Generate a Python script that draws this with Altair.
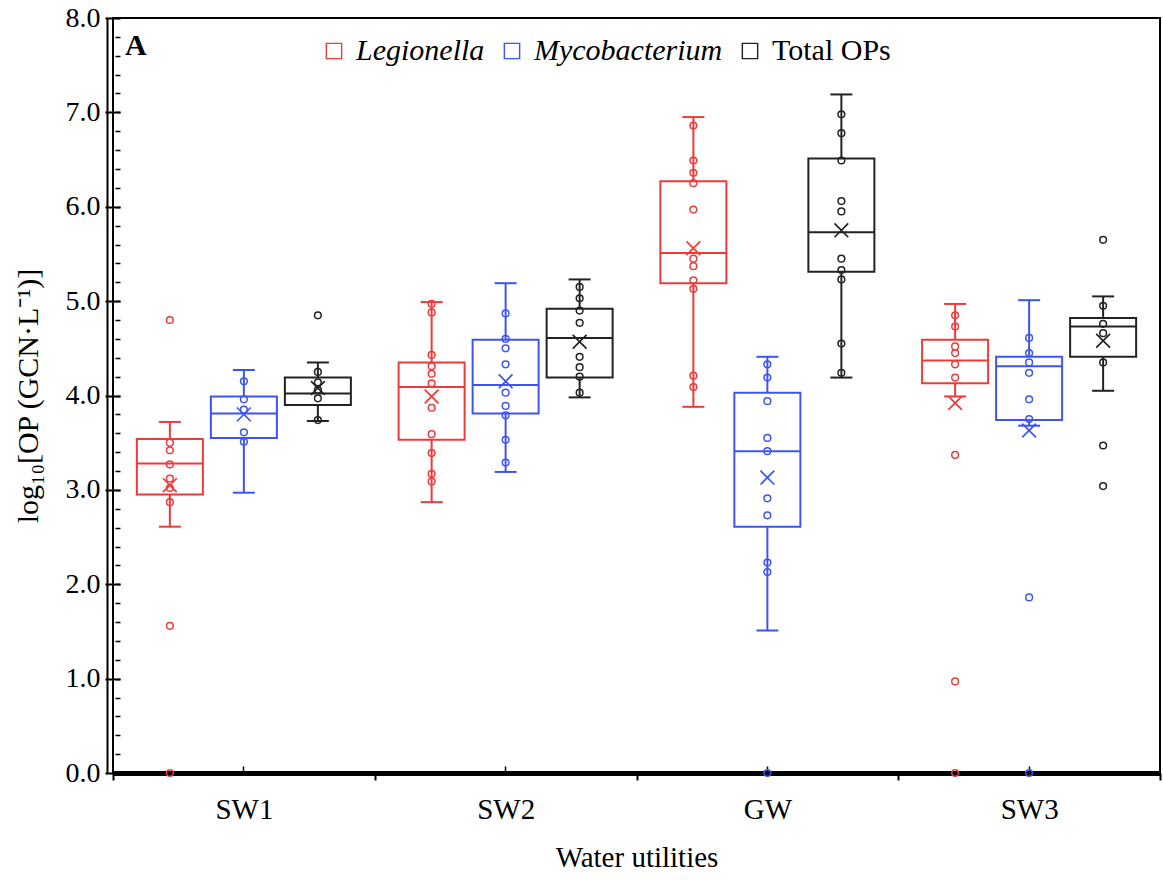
import altair as alt
import pandas as pd

SERIF = "Liberation Serif"

utilities = ["SW1", "SW2", "GW", "SW3"]
series = ["Legionella", "Mycobacterium", "Total OPs"]
colors = ["#f03a3a", "#3d55f0", "#222222"]

# Box statistics (order: SW1 L/M/T, SW2 L/M/T, GW L/M/T, SW3 L/M/T)
whisker_low = [2.61, 2.97, 3.73, 2.87, 3.19, 3.98, 3.88, 1.51, 4.19, 3.99, 3.68, 4.05]
q1 = [2.95, 3.55, 3.90, 3.53, 3.81, 4.19, 5.19, 2.61, 5.31, 4.13, 3.74, 4.41]
median = [3.28, 3.81, 4.02, 4.09, 4.11, 4.61, 5.51, 3.41, 5.73, 4.37, 4.31, 4.73]
q3 = [3.54, 3.99, 4.19, 4.35, 4.59, 4.92, 6.27, 4.03, 6.51, 4.59, 4.41, 4.82]
whisker_high = [3.72, 4.27, 4.35, 4.99, 5.19, 5.23, 6.95, 4.41, 7.19, 4.97, 5.01, 5.05]
mean = [3.05, 3.80, 4.08, 3.99, 4.15, 4.57, 5.56, 3.13, 5.75, 3.92, 3.63, 4.58]

# Individual sample points
sw1_leg = [4.80, 3.50, 3.42, 3.27, 3.12, 3.02, 2.87, 1.56, 0.0]
sw1_myc = [4.15, 3.96, 3.85, 3.61, 3.51]
sw1_tot = [4.85, 4.25, 4.14, 4.06, 3.97, 3.74]
sw2_leg = [4.97, 4.88, 4.43, 4.31, 4.23, 4.13, 3.87, 3.59, 3.39, 3.17, 3.09]
sw2_myc = [4.87, 4.60, 4.50, 4.33, 4.03, 3.89, 3.79, 3.53, 3.29]
sw2_tot = [5.15, 5.03, 4.90, 4.77, 4.41, 4.30, 4.20, 4.03]
gw_leg = [6.86, 6.49, 6.36, 6.25, 5.97, 5.45, 5.37, 5.22, 5.13, 4.21, 4.09]
gw_myc = [4.33, 4.19, 3.94, 3.55, 3.41, 2.91, 2.73, 2.23, 2.13, 0.0]
gw_tot = [6.98, 6.78, 6.49, 6.06, 5.95, 5.45, 5.33, 5.23, 4.55, 4.24]
sw3_leg = [4.85, 4.73, 4.52, 4.45, 4.33, 4.19, 3.37, 0.97, 0.0]
sw3_myc = [4.61, 4.45, 4.35, 4.24, 3.96, 3.75, 1.86, 0.0]
sw3_tot = [5.65, 4.95, 4.76, 4.66, 4.35, 3.47, 3.04]

major_ticks = [0, 1, 2, 3, 4, 5, 6, 7, 8]
minor_ticks = [round(i * 0.2, 1) for i in range(41)]

stat_util = [u for u in utilities for _ in series]
stat_series = [s for _ in utilities for s in series]
stats = pd.DataFrame({
    "utility": stat_util, "series": stat_series,
    "whisker_low": whisker_low, "q1": q1, "median": median,
    "q3": q3, "whisker_high": whisker_high, "mean": mean,
})

point_groups = [
    ("SW1", "Legionella", sw1_leg), ("SW1", "Mycobacterium", sw1_myc), ("SW1", "Total OPs", sw1_tot),
    ("SW2", "Legionella", sw2_leg), ("SW2", "Mycobacterium", sw2_myc), ("SW2", "Total OPs", sw2_tot),
    ("GW", "Legionella", gw_leg), ("GW", "Mycobacterium", gw_myc), ("GW", "Total OPs", gw_tot),
    ("SW3", "Legionella", sw3_leg), ("SW3", "Mycobacterium", sw3_myc), ("SW3", "Total OPs", sw3_tot),
]
pts = pd.DataFrame(
    [{"utility": u, "series": s, "value": v} for u, s, vals in point_groups for v in vals]
)

xscale = alt.Scale(domain=utilities, paddingInner=0, paddingOuter=0)
x_axis_main = alt.Axis(
    orient="bottom", tickBand="extent", tickSize=7, tickWidth=2, tickColor="black",
    domainColor="black", domainWidth=5, labelFont=SERIF, labelFontSize=29,
    labelColor="black", labelPadding=15, labelAngle=0, titleFont=SERIF,
    titleFontSize=29, titleFontWeight="normal", titleColor="black", titlePadding=19,
    grid=False,
)
x_axis_center = alt.Axis(orient="bottom", offset=-7, tickSize=6, tickWidth=1.5,
                         tickColor="black", labels=False, domain=False, grid=False)
x_main = alt.X("utility:N", sort=utilities, title="Water utilities", scale=xscale, axis=x_axis_main)
x_center = alt.X("utility:N", sort=utilities, title=None, scale=xscale, axis=x_axis_center)
x_plain = alt.X("utility:N", sort=utilities, scale=xscale, axis=None)
xo = alt.XOffset("series:N", sort=series,
                 scale=alt.Scale(domain=series, paddingInner=0.108, paddingOuter=0.3225))
yscale = alt.Scale(domain=[0, 8], nice=False, zero=False)

# hollow square frame as legend symbol
frame_path = "M -1 -1 H 1 V 1 H -1 Z M -0.83 -0.83 V 0.83 H 0.83 V -0.83 Z"
legend = alt.Legend(
    orient="none", legendX=206, legendY=18, direction="horizontal", title=None,
    symbolType=frame_path, symbolSize=280, symbolStrokeWidth=0,
    labelFont=SERIF, labelFontSize=30, labelColor="black",
    labelFontStyle=alt.ExprRef("datum.label == 'Total OPs' ? 'normal' : 'italic'"),
    columnPadding=12, labelOffset=7, labelLimit=400,
)
stroke = alt.Stroke("series:N", sort=series, scale=alt.Scale(domain=series, range=colors),
                    legend=legend)
fill = alt.Fill("series:N", sort=series, scale=alt.Scale(domain=series, range=colors),
                legend=None)

axis_main = alt.Axis(
    orient="left", offset=6, values=major_ticks, format=".1f", tickSize=2, tickWidth=2,
    tickColor="black", domainColor="black", domainWidth=2, labelFont=SERIF,
    labelFontSize=28, labelColor="black", labelPadding=5, titleFont=SERIF,
    titleFontSize=30, titleFontWeight="normal", titleColor="black", titlePadding=22,
    grid=False,
)
axis_major_in = alt.Axis(orient="left", offset=-7, values=major_ticks, tickSize=14,
                         tickWidth=2, tickColor="black", labels=False, domain=False, grid=False)
axis_minor_in = alt.Axis(orient="left", offset=-7, values=minor_ticks, tickSize=5,
                         tickWidth=1.5, tickColor="black", labels=False, domain=False, grid=False)

base = alt.Chart(stats)

box = base.mark_bar(filled=False, fill="transparent", strokeWidth=2, opacity=1).encode(
    x=x_main, xOffset=xo,
    y=alt.Y("q1:Q", scale=yscale, axis=axis_main, title="log₁₀[OP (GCN·L⁻¹)]"),
    y2="q3:Q", stroke=stroke)
whisk_lo = base.mark_rule(strokeWidth=2, opacity=1).encode(
    x=x_plain, xOffset=xo,
    y=alt.Y("whisker_low:Q", scale=yscale, axis=axis_major_in, title=None),
    y2="q1:Q", stroke=stroke)
whisk_hi = base.mark_rule(strokeWidth=2, opacity=1).encode(
    x=x_plain, xOffset=xo,
    y=alt.Y("q3:Q", scale=yscale, axis=axis_minor_in, title=None),
    y2="whisker_high:Q", stroke=stroke)
med = base.mark_tick(size=66, thickness=2, opacity=1).encode(
    x=x_plain, xOffset=xo, y=alt.Y("median:Q", scale=yscale, axis=None), fill=fill)
cap_lo = base.mark_tick(size=22, thickness=2, opacity=1).encode(
    x=x_plain, xOffset=xo, y=alt.Y("whisker_low:Q", scale=yscale, axis=None), fill=fill)
cap_hi = base.mark_tick(size=22, thickness=2, opacity=1).encode(
    x=x_plain, xOffset=xo, y=alt.Y("whisker_high:Q", scale=yscale, axis=None), fill=fill)
mean_mark = base.mark_point(shape="M -1 -1 L 1 1 M -1 1 L 1 -1", size=190, filled=False,
                            strokeWidth=1.7, opacity=1).encode(
    x=x_center, xOffset=xo, y=alt.Y("mean:Q", scale=yscale, axis=None), stroke=stroke)
points = alt.Chart(pts).mark_point(shape="circle", size=45, filled=False,
                                   strokeWidth=1.5, opacity=1).encode(
    x=x_plain, xOffset=xo, y=alt.Y("value:Q", scale=yscale, axis=None), stroke=stroke)
panel = alt.Chart(pd.DataFrame({"t": ["A"]})).mark_text(
    font=SERIF, fontSize=30, fontWeight="bold", align="left", baseline="alphabetic",
    color="black").encode(text="t:N", x=alt.value(12), y=alt.value(37))

chart = alt.layer(
    box, whisk_lo, whisk_hi, med, cap_lo, cap_hi, mean_mark, points, panel
).resolve_axis(y="independent", x="independent").properties(
    width=1047, height=755,
    padding={"left": 113, "top": 18, "right": 3, "bottom": 107},
    autosize=alt.AutoSizeParams(type="none"),
    background="white",
).configure_view(stroke="black", strokeWidth=2)

chart.save("out.html", embed_options={"renderer": "svg", "actions": False})
